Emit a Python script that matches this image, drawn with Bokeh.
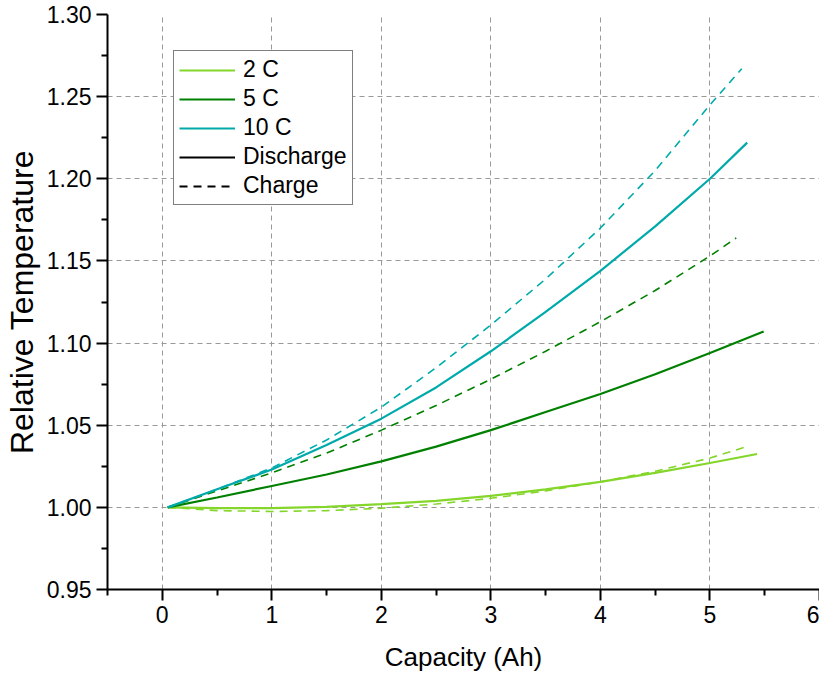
from bokeh.plotting import figure
from bokeh.models import Legend, LegendItem, FixedTicker, NumeralTickFormatter, Range1d, ColumnDataSource
from bokeh.embed import file_html
from bokeh.resources import INLINE

# ---- data ----
x_2c_dis = [0.05, 0.5, 1.0, 1.5, 2.0, 2.5, 3.0, 3.5, 4.0, 4.5, 5.0, 5.43]
y_2c_dis = [1.000, 0.9995, 0.9995, 1.0003, 1.002, 1.004, 1.007, 1.011, 1.0155, 1.021, 1.027, 1.0325]
x_2c_chg = [0.05, 0.5, 1.0, 1.5, 2.0, 2.5, 3.0, 3.5, 4.0, 4.5, 5.0, 5.36]
y_2c_chg = [1.000, 0.998, 0.9975, 0.998, 0.9995, 1.002, 1.0055, 1.010, 1.0155, 1.022, 1.030, 1.0375]

x_5c_dis = [0.05, 0.5, 1.0, 1.5, 2.0, 2.5, 3.0, 3.5, 4.0, 4.5, 5.0, 5.49]
y_5c_dis = [1.000, 1.006, 1.013, 1.020, 1.028, 1.037, 1.047, 1.058, 1.069, 1.081, 1.094, 1.107]
x_5c_chg = [0.05, 0.5, 1.0, 1.5, 2.0, 2.5, 3.0, 3.5, 4.0, 4.5, 5.0, 5.24]
y_5c_chg = [1.000, 1.010, 1.021, 1.033, 1.047, 1.062, 1.078, 1.095, 1.113, 1.132, 1.153, 1.164]

x_10c_dis = [0.05, 0.5, 1.0, 1.5, 2.0, 2.5, 3.0, 3.5, 4.0, 4.5, 5.0, 5.34]
y_10c_dis = [1.000, 1.011, 1.023, 1.038, 1.054, 1.073, 1.095, 1.119, 1.144, 1.171, 1.200, 1.222]
x_10c_chg = [0.05, 0.5, 1.0, 1.5, 2.0, 2.5, 3.0, 3.5, 4.0, 4.5, 5.0, 5.29]
y_10c_chg = [1.000, 1.011, 1.024, 1.041, 1.061, 1.085, 1.111, 1.139, 1.170, 1.205, 1.245, 1.267]

x_major_ticks = [0, 1, 2, 3, 4, 5, 6]
x_minor_ticks = [-0.5, 0.5, 1.5, 2.5, 3.5, 4.5, 5.5]
y_major_ticks = [0.95, 1.00, 1.05, 1.10, 1.15, 1.20, 1.25, 1.30]
y_minor_ticks = [0.975, 1.025, 1.075, 1.125, 1.175, 1.225, 1.275]
x_grid_ticks = [0, 1, 2, 3, 4, 5]
y_grid_ticks = [1.00, 1.05, 1.10, 1.15, 1.20, 1.25]

C2 = "#84D62A"
C5 = "#008000"
C10 = "#00AAAA"
FONT = "Liberation Sans"

p = figure(width=819, height=674, output_backend="svg", toolbar_location=None,
           x_range=Range1d(-0.5, 6), y_range=Range1d(0.95, 1.30),
           min_border_left=100, min_border_right=0, min_border_top=14, min_border_bottom=80)
p.outline_line_color = None
p.background_fill_color = "white"

for ax, maj, mnr in ((p.xaxis[0], x_major_ticks, x_minor_ticks), (p.yaxis[0], y_major_ticks, y_minor_ticks)):
    ax.ticker = FixedTicker(ticks=maj, minor_ticks=mnr)
    ax.axis_line_width = 2
    ax.axis_line_color = "black"
    ax.major_tick_line_width = 2
    ax.minor_tick_line_width = 2
    ax.major_tick_line_color = "black"
    ax.minor_tick_line_color = "black"
    ax.major_tick_in = 0
    ax.minor_tick_in = 0
    ax.major_tick_out = 11
    ax.minor_tick_out = 6
    ax.major_label_text_font = FONT
    ax.major_label_text_font_size = "23px"
    ax.major_label_text_color = "black"
    ax.axis_label_text_font = FONT
    ax.axis_label_text_font_style = "normal"
    ax.axis_label_text_color = "black"

p.xaxis[0].major_label_standoff = 5
p.yaxis[0].major_label_standoff = 5
p.yaxis[0].formatter = NumeralTickFormatter(format="0.00")
p.xaxis[0].axis_label = "Capacity (Ah)"
p.yaxis[0].axis_label = "Relative Temperature"
p.xaxis[0].axis_label_text_font_size = "26px"
p.yaxis[0].axis_label_text_font_size = "32px"
p.xaxis[0].axis_label_standoff = 16
p.yaxis[0].axis_label_standoff = 4

p.xgrid.ticker = FixedTicker(ticks=x_grid_ticks)
p.ygrid.ticker = FixedTicker(ticks=y_grid_ticks)
for g in (p.xgrid[0], p.ygrid[0]):
    g.grid_line_color = "#999999"
    g.grid_line_width = 1
    g.grid_line_dash = "5 4"

r2d = p.line(x_2c_dis, y_2c_dis, line_color=C2, line_width=2.2)
r2c = p.line(x_2c_chg, y_2c_chg, line_color=C2, line_width=1.6, line_dash="8 6")
r5d = p.line(x_5c_dis, y_5c_dis, line_color=C5, line_width=2.2)
r5c = p.line(x_5c_chg, y_5c_chg, line_color=C5, line_width=1.6, line_dash="8 6")
r10d = p.line(x_10c_dis, y_10c_dis, line_color=C10, line_width=2.2)
r10c = p.line(x_10c_chg, y_10c_chg, line_color=C10, line_width=1.6, line_dash="8 6")

# legend-only renderers (no visible data)
nan = float("nan")
proxy = ColumnDataSource(data=dict(x=[nan], y=[nan]))
rdis = p.line("x", "y", source=proxy, line_color="black", line_width=2.2)
rchg = p.line("x", "y", source=proxy, line_color="black", line_width=2.2, line_dash="8 6")

legend = Legend(items=[
    LegendItem(label="2 C", renderers=[r2d]),
    LegendItem(label="5 C", renderers=[r5d]),
    LegendItem(label="10 C", renderers=[r10d]),
    LegendItem(label="Discharge", renderers=[rdis]),
    LegendItem(label="Charge", renderers=[rchg]),
], location=(66, 384))
legend.border_line_color = "black"
legend.border_line_width = 1
legend.background_fill_color = "white"
legend.background_fill_alpha = 1
legend.label_text_font = FONT
legend.label_text_font_size = "23px"
legend.label_text_color = "black"
legend.glyph_width = 56
legend.glyph_height = 22
legend.label_height = 22
legend.spacing = 2
legend.padding = 5
legend.margin = 0
legend.label_standoff = 8
p.add_layout(legend, "center")

open("out.html", "w").write(file_html(p, INLINE))
